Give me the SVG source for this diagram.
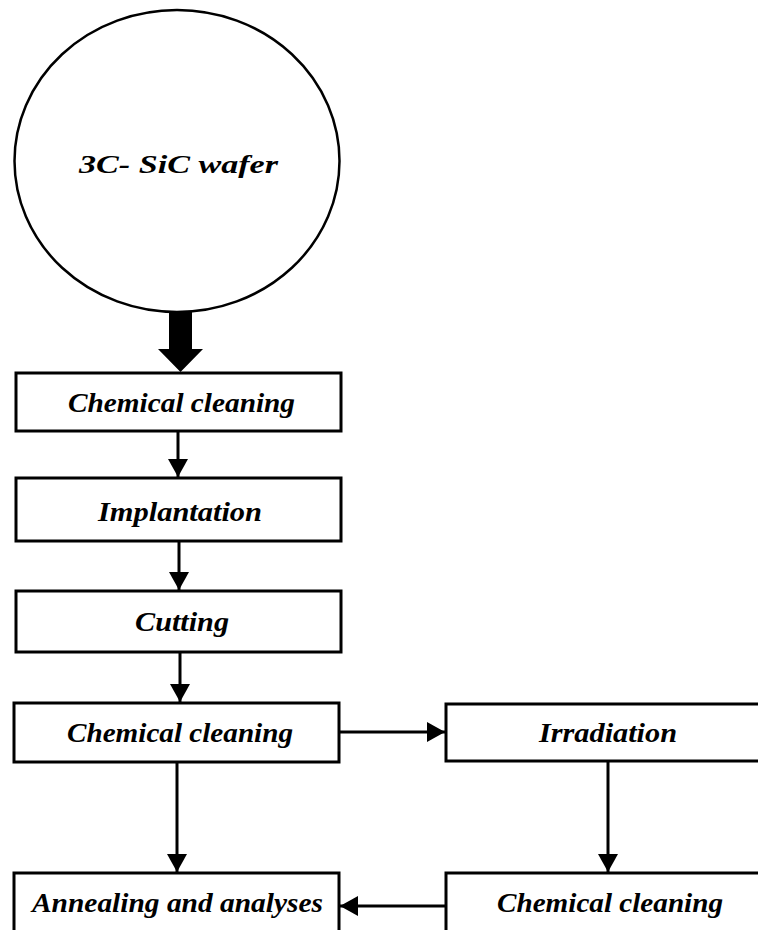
<svg xmlns="http://www.w3.org/2000/svg" width="758" height="930" viewBox="0 0 758 930">
<style>
.box{fill:#fff;stroke:#000;stroke-width:3}
.lbl{font-family:"Liberation Serif","Times New Roman",serif;font-weight:bold;font-style:italic;font-size:28px;fill:#000}
.con{stroke:#000;stroke-width:3;fill:none}
</style>
<defs>
<marker id="ah" viewBox="0 0 18 20" refX="18" refY="10" markerWidth="18" markerHeight="20" markerUnits="userSpaceOnUse" orient="auto">
<path d="M0,0 L18,10 L0,20 Z" fill="#000"/>
</marker>
</defs>
<rect width="758" height="930" fill="#fff"/>
<g id="wafer">
<ellipse cx="177" cy="161" rx="162.5" ry="151" fill="#fff" stroke="#000" stroke-width="2.5"/>
<text class="lbl" x="79" y="173" style="font-size:25px" textLength="199" lengthAdjust="spacingAndGlyphs">3C- SiC wafer</text>
</g>
<g id="clean1">
<rect class="box" x="16" y="373" width="325" height="58"/>
<text class="lbl" x="68" y="412" textLength="227" lengthAdjust="spacingAndGlyphs">Chemical cleaning</text>
</g>
<g id="implant">
<rect class="box" x="16" y="478" width="325" height="63"/>
<text class="lbl" x="98" y="521" textLength="164" lengthAdjust="spacingAndGlyphs">Implantation</text>
</g>
<g id="cutting">
<rect class="box" x="16" y="591" width="325" height="61"/>
<text class="lbl" x="135" y="631" textLength="94" lengthAdjust="spacingAndGlyphs">Cutting</text>
</g>
<g id="clean2">
<rect class="box" x="14" y="703" width="325" height="59"/>
<text class="lbl" x="67" y="742" textLength="226" lengthAdjust="spacingAndGlyphs">Chemical cleaning</text>
</g>
<g id="irradiation">
<rect class="box" x="446" y="704" width="340" height="57"/>
<text class="lbl" x="539" y="742" textLength="138" lengthAdjust="spacingAndGlyphs">Irradiation</text>
</g>
<g id="clean3">
<rect class="box" x="446" y="873" width="340" height="100"/>
<text class="lbl" x="497" y="912" textLength="226" lengthAdjust="spacingAndGlyphs">Chemical cleaning</text>
</g>
<g id="annealing">
<rect class="box" x="14" y="873" width="325" height="100"/>
<text class="lbl" x="32" y="912" textLength="291" lengthAdjust="spacingAndGlyphs">Annealing and analyses</text>
</g>
<g id="connectors">
<polygon points="169,312 192,312 192,349 203,349 180.5,372 158,349 169,349" fill="#000"/>
<line class="con" x1="178" y1="431" x2="178" y2="477" marker-end="url(#ah)"/>
<line class="con" x1="179" y1="541" x2="179" y2="590" marker-end="url(#ah)"/>
<line class="con" x1="180" y1="652" x2="180" y2="702" marker-end="url(#ah)"/>
<line class="con" x1="339" y1="732" x2="445" y2="732" marker-end="url(#ah)"/>
<line class="con" x1="608" y1="761" x2="608" y2="872" marker-end="url(#ah)"/>
<line class="con" x1="177" y1="762" x2="177" y2="872" marker-end="url(#ah)"/>
<line class="con" x1="446" y1="906" x2="340" y2="906" marker-end="url(#ah)"/>
</g>
</svg>
